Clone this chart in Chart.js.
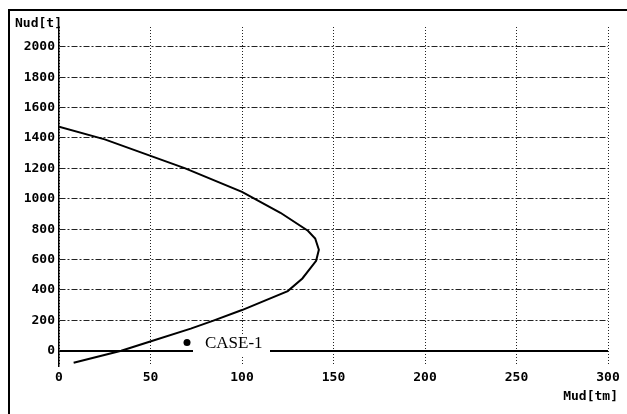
<!DOCTYPE html>
<html>
<head>
<meta charset="utf-8">
<script src="https://cdn.jsdelivr.net/npm/chart.js@4.4.0/dist/chart.umd.min.js"></script>
<style>
    html, body { margin: 0; padding: 0; background: #fff; }
</style>
</head>
<body>
<canvas id="chart" width="627" height="414"></canvas>
<script>
// Interaction curve CASE-1 (Mud [tm] vs Nud [t])
const momentMud = [8, 34, 49, 72, 84, 100, 112.5, 125, 133, 140.5, 142, 140, 136, 121, 107.5, 100, 69, 25, 0];
const axialNud = [-79, 0, 58, 146, 197, 268, 330, 393, 476, 592, 665, 739, 790, 908, 996, 1046, 1200, 1391, 1474];

const xTicks = [0, 50, 100, 150, 200, 250, 300];
const yTicks = [0, 200, 400, 600, 800, 1000, 1200, 1400, 1600, 1800, 2000];

const seriesLabel = 'CASE-1';
const xTitle = 'Mud[tm]';
const yTitle = 'Nud[t]';

const monoFont = { family: 'DejaVu Sans Mono', size: 13, weight: 'bold' };

// Outer frame + axis titles
const framePlugin = {
    id: 'frame',
    beforeDraw(chart) {
        const ctx = chart.ctx;
        ctx.save();
        ctx.fillStyle = '#fff';
        ctx.fillRect(0, 0, chart.width, chart.height);
        ctx.strokeStyle = '#000';
        ctx.lineWidth = 2;
        ctx.beginPath();
        ctx.moveTo(9, chart.height);
        ctx.lineTo(9, 10);
        ctx.lineTo(chart.width, 10);
        ctx.stroke();
        ctx.restore();
    },
    afterDraw(chart) {
        const ctx = chart.ctx;
        ctx.save();
        ctx.fillStyle = '#000';
        ctx.font = 'bold 13px "DejaVu Sans Mono"';
        ctx.textBaseline = 'middle';
        ctx.textAlign = 'left';
        ctx.fillText(yTitle, 15, 24);
        ctx.textAlign = 'right';
        ctx.fillText(xTitle, 618, 397);
        ctx.restore();
    }
};

// Legend drawn on top of the zero line
const legendPlugin = {
    id: 'inlineLegend',
    afterDatasetsDraw(chart) {
        const ctx = chart.ctx;
        ctx.save();
        ctx.fillStyle = '#fff';
        ctx.fillRect(193, 334, 77, 22);
        ctx.fillStyle = '#000';
        ctx.beginPath();
        ctx.arc(187, 342.5, 3.5, 0, Math.PI * 2);
        ctx.fill();
        ctx.font = '17px "Liberation Serif"';
        ctx.textAlign = 'left';
        ctx.textBaseline = 'alphabetic';
        ctx.fillText(seriesLabel, 205, 347.5);
        ctx.restore();
    }
};

const ctx = document.getElementById('chart').getContext('2d');
new Chart(ctx, {
    type: 'scatter',
    data: {
        datasets: [{
            label: seriesLabel,
            data: momentMud.map((m, i) => ({ x: m, y: axialNud[i] })),
            showLine: true,
            borderColor: '#000',
            borderWidth: 2,
            pointRadius: 0,
            tension: 0,
            fill: false
        }]
    },
    options: {
        responsive: false,
        animation: false,
        layout: { padding: { top: 27, right: 19, left: 0, bottom: 0 } },
        plugins: {
            legend: { display: false },
            tooltip: { enabled: false }
        },
        scales: {
            x: {
                type: 'linear',
                min: 0,
                max: 300,
                afterBuildTicks: axis => { axis.ticks = xTicks.map(v => ({ value: v })); },
                afterFit: scale => { scale.height = 48; },
                ticks: { font: monoFont, color: '#000', padding: 4, maxRotation: 0, callback: v => String(v) },
                grid: { color: '#222', lineWidth: 1, drawTicks: false },
                border: { display: false, dash: [1, 2] }
            },
            y: {
                type: 'linear',
                min: -100,
                max: 2130,
                afterBuildTicks: axis => { axis.ticks = yTicks.map(v => ({ value: v })); },
                afterFit: scale => { scale.width = 59; },
                ticks: { font: monoFont, color: '#000', padding: 4, callback: v => String(v) },
                grid: {
                    drawTicks: false,
                    color: c => (c.tick && c.tick.value === 0) ? '#000' : '#222',
                    lineWidth: c => (c.tick && c.tick.value === 0) ? 2 : 1
                },
                border: {
                    display: true,
                    color: '#000',
                    width: 1.5,
                    dash: c => (c.tick && c.tick.value === 0) ? [] : [6, 2, 2, 2]
                }
            }
        }
    },
    plugins: [framePlugin, legendPlugin]
});
</script>
</body>
</html>
